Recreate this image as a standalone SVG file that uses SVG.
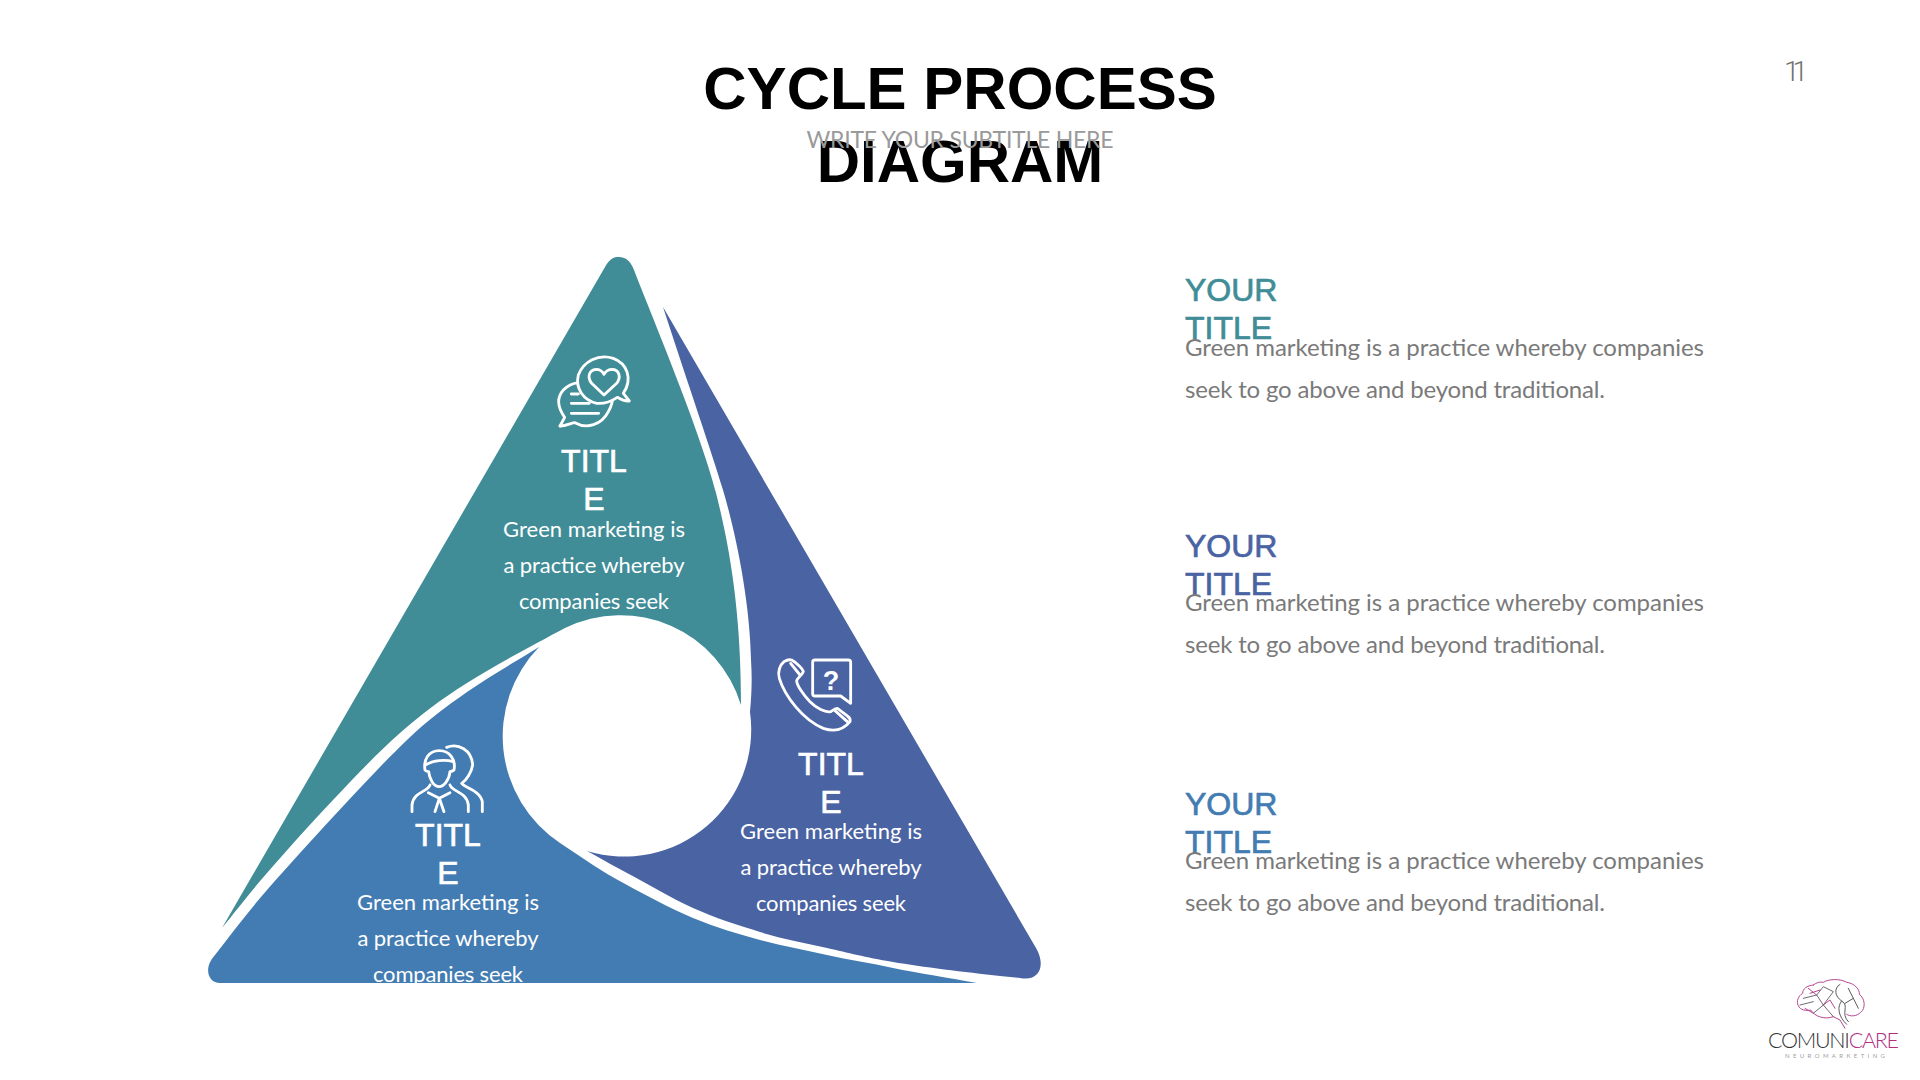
<svg xmlns="http://www.w3.org/2000/svg" width="1920" height="1080" viewBox="0 0 1920 1080">
<style>
text{font-family:"Lato","Liberation Sans",sans-serif}
.t{font-family:"Liberation Sans",Arial,sans-serif;font-size:32px;stroke-width:.7px}
.lab{fill:#fff;stroke:#fff;text-anchor:middle}
.b{font-size:22px;fill:#fff;text-anchor:middle}
.d{font-size:24px;fill:#7a7a7a}
.i{fill:none;stroke:#fff;stroke-width:8.5;stroke-linecap:round;stroke-linejoin:round}
.br{fill:none;stroke-width:3;stroke-linecap:round;stroke-linejoin:round}
.h{font-family:"Liberation Sans",Arial,sans-serif;font-size:60px;font-weight:700;fill:#000;text-anchor:middle}
.c1{fill:#408D97;stroke:#408D97}
.c2{fill:#4A63A3;stroke:#4A63A3}
.c3{fill:#437CB2;stroke:#437CB2}
</style>
<rect width="1920" height="1080" fill="#fff"/>
<g id="header">
<text class="h" x="960" y="109">CYCLE PROCESS</text>
<text class="h" x="960" y="182">DIAGRAM</text>
<text x="960" y="148" text-anchor="middle" font-size="23" fill="#9a9a9a" textLength="307" lengthAdjust="spacing">WRITE YOUR SUBTITLE HERE</text>
<text x="1784" y="81" font-size="28" font-weight="300" fill="#707070" letter-spacing="-7" style="font-family:Roboto,'Liberation Sans',sans-serif">11</text>
</g>
<g id="node-teal">
<path fill="#408D97" d="M605,267C610,258 614,257 619,257C625,257 630,260 634,270C650,312 700,430 716,493S741,620 741,705A126,126 0 0 0 565,628C535,644 494.5,665.5 467,683C439.5,700.5 422.3,713.5 400,733C377.7,752.5 355.2,776.7 333,800C310.8,823.3 285.5,851.7 267,873C248.5,894.3 235,912 222,928Z"/>
<g class="i" transform="translate(530,340) scale(.3333)">
<path d="M90,258L104,232C85,205 78,175 100,150C115,135 130,130 145,128"/>
<path d="M90,258C110,258 125,248 135,248C170,268 215,255 235,215C243,200 247,190 247,180"/>
<path fill="#408D97" d="M298,183L280,160C310,115 290,70 250,55C205,40 160,65 145,105C135,145 160,180 200,190C230,193 250,180 262,172C272,178 285,185 298,183Z"/>
<path d="M222,165L185,130C170,110 178,90 198,88C210,88 218,95 222,103C226,95 236,88 248,88C268,90 274,112 260,130Z"/>
<path d="M124,162H145M124,190H178M124,220H206"/>
</g>
<text class="t lab" x="594" y="472">TITL</text><text class="t lab" x="594" y="510">E</text>
<text class="b" x="594" y="537" textLength="182" lengthAdjust="spacing">Green marketing is</text><text class="b" x="594" y="573" textLength="181" lengthAdjust="spacing">a practice whereby</text><text class="b" x="594" y="609" textLength="150" lengthAdjust="spacing">companies seek</text>
</g>
<g id="node-indigo">
<path fill="#4A63A3" d="M663,307L1036,948C1046,965 1040,982 1020,978L1000,976C965,972 922,967 893,962C864,957 849,953 827,948C805,943 782,939 760,932C738,925 715,918 693,908C671,898 645,882.5 627,873C609,863.5 600,858 587,851A127,127 0 0 0 750,712C752,690 752,675 751,660C750,600 735,530 723,490S690,390 663,307Z"/>
<g class="i" transform="translate(760,640) scale(.3333)">
<path d="M72,65C60,75 52,95 58,115C75,170 130,240 190,265C220,275 250,270 270,245C272,238 268,232 262,228L232,205C225,205 218,212 212,215C195,218 170,205 150,185C130,165 110,135 110,122C112,115 128,102 130,95C128,85 105,65 95,60C88,58 80,60 72,65Z"/>
<path d="M92,70L120,105M225,212L262,245"/>
<path d="M165,60H265Q272,60 272,67V190L242,168H165Q158,168 158,161V67Q158,60 165,60Z"/>
</g>
<text x="831" y="690" text-anchor="middle" fill="#fff" style="font-family:'Liberation Sans',Arial,sans-serif;font-size:27px;font-weight:700">?</text>
<text class="t lab" x="831" y="775">TITL</text><text class="t lab" x="831" y="813">E</text>
<text class="b" x="831" y="839" textLength="182" lengthAdjust="spacing">Green marketing is</text><text class="b" x="831" y="875" textLength="181" lengthAdjust="spacing">a practice whereby</text><text class="b" x="831" y="911" textLength="150" lengthAdjust="spacing">companies seek</text>
</g>
<g id="node-blue">
<path fill="#437CB2" d="M539,647A128,128 0 0 0 560,843C571,850 582,858 593,865C604,872 610,876 627,885C644,894 671,909 693,918C715,927 738,934 760,940C782,946 805,950 827,955C849,960 871,963 893,968C918,973 950,978 977,983H220C208,983 203,968 215,955C232,933 247,913 267,890C287,867 310,842 333,817C356,792 385,761 407,740C429,719 445,707.5 467,692C489,676.5 515,662 539,647Z"/>
<g class="i" transform="translate(400,730) scale(.3333)">
<path d="M140,52C175,38 215,60 218,105C215,125 200,150 185,160C190,172 240,180 247,215V245"/>
<path d="M75,120C70,90 85,62 118,62C150,62 168,90 162,120C155,125 152,125 150,125C148,150 130,170 118,170C100,170 88,145 86,125C82,125 78,123 75,120Z"/>
<path d="M76,105C100,90 135,88 160,95"/>
<path d="M90,165C85,185 40,185 36,225V245M150,165C155,185 200,185 205,225V245"/>
<path d="M85,188L118,205L150,188M118,205L105,245M118,205L132,245"/>
</g>
<text class="t lab" x="448" y="846">TITL</text><text class="t lab" x="448" y="884">E</text>
<text class="b" x="448" y="910" textLength="182" lengthAdjust="spacing">Green marketing is</text><text class="b" x="448" y="946" textLength="181" lengthAdjust="spacing">a practice whereby</text><text class="b" x="448" y="982" textLength="150" lengthAdjust="spacing">companies seek</text>
</g>
<g id="info-1">
<text class="t c1" x="1185" y="301">YOUR</text><text class="t c1" x="1185" y="339">TITLE</text>
<text class="d" x="1185" y="356" textLength="519" lengthAdjust="spacing">Green marketing is a practice whereby companies</text><text class="d" x="1185" y="398" textLength="420" lengthAdjust="spacing">seek to go above and beyond traditional.</text>
</g>
<g id="info-2">
<text class="t c2" x="1185" y="557">YOUR</text><text class="t c2" x="1185" y="595">TITLE</text>
<text class="d" x="1185" y="611" textLength="519" lengthAdjust="spacing">Green marketing is a practice whereby companies</text><text class="d" x="1185" y="653" textLength="420" lengthAdjust="spacing">seek to go above and beyond traditional.</text>
</g>
<g id="info-3">
<text class="t c3" x="1185" y="815">YOUR</text><text class="t c3" x="1185" y="853">TITLE</text>
<text class="d" x="1185" y="869" textLength="519" lengthAdjust="spacing">Green marketing is a practice whereby companies</text><text class="d" x="1185" y="911" textLength="420" lengthAdjust="spacing">seek to go above and beyond traditional.</text>
</g>
<g id="logo">
<g transform="translate(1790,975) scale(.3333)">
<path class="br" stroke="#b5478f" d="M70,30C50,32 38,42 38,55C25,62 18,80 25,92C30,105 48,108 62,105C75,125 105,135 130,125"/>
<path class="br" stroke="#b5478f" d="M70,30C80,22 90,20 100,22C115,12 150,10 170,22C195,25 210,45 208,58C225,70 228,100 212,112C200,125 180,125 170,118"/>
<path class="br" stroke="#6f6a70" d="M40,70L80,60L100,90L70,115M80,60L100,35L130,50L100,90M100,90L130,125M30,90L70,80"/>
<path class="br" stroke="#b5478f" d="M55,40L80,60M100,90L120,75L135,100M130,125L150,135L165,160M60,55L90,45M45,100L70,115"/>
<path class="br" stroke="#5a5a5e" d="M150,28C130,40 135,65 155,78C180,92 150,115 175,140M155,78C140,95 145,125 170,148M175,40L205,100M190,70L165,85"/>
</g>
<text x="1768" y="1048" font-size="21.5" font-weight="300" fill="#333" textLength="131" lengthAdjust="spacing">COMUNI<tspan fill="#b0307f">CARE</tspan></text>
<text x="1785" y="1058" font-size="6" fill="#a0a0a0" textLength="100" lengthAdjust="spacing">NEUROMARKETING</text>
</g>
</svg>
